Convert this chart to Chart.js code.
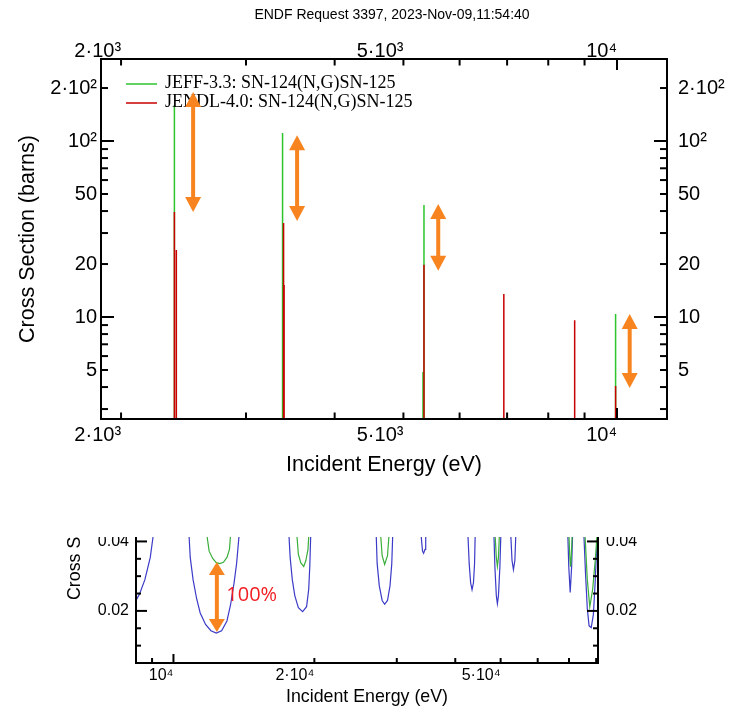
<!DOCTYPE html>
<html>
<head>
<meta charset="utf-8">
<script src="https://cdn.jsdelivr.net/npm/chart.js@4.4.0/dist/chart.umd.min.js"></script>
<style>
  body { margin: 0; background: #fff; width: 737px; height: 713px; overflow: hidden; position: relative; }
  #top { position: absolute; left: 0; top: 0; }
  #lowWrap { position: absolute; left: 0; top: 537px; width: 737px; height: 176px; overflow: hidden; }
  #low { position: absolute; left: 0; top: -197px; }
</style>
</head>
<body>
<canvas id="top" width="737" height="490"></canvas>
<div id="lowWrap"><canvas id="low" width="737" height="373"></canvas></div>
<script>
// ---- top plot: resonance peaks (eV, barns)
const plotTitle = "ENDF Request 3397, 2023-Nov-09,11:54:40";
const jeffLabel = "JEFF-3.3: SN-124(N,G)SN-125";
const jendlLabel = "JENDL-4.0: SN-124(N,G)SN-125";
const jeffEnergy = [2378, 3378, 5328, 5345, 9954];
const jeffPeak = [160, 111, 4.87, 43.3, 10.4];
const jendlEnergy = [2378, 2393, 3389, 3395, 5345, 6926, 8716, 9954];
const jendlPeak = [39.5, 24.0, 34.2, 15.2, 19.8, 13.5, 9.6, 4.06];
const topXTicks = [2000, 5000, 10000];
const topXLabels = ["2·10³", "5·10³", "10⁴"];
const topYTicks = [5, 10, 20, 50, 100, 200];
const topYLabels = ["5", "10", "20", "50", "10²", "2·10²"];
// annotation arrows: energy, upper and lower cross section
const arrowEnergy = [2527, 3541, 5598, 10420];
const arrowHigh = [190, 108, 43.8, 10.4];
const arrowLow = [39.5, 35.1, 18.3, 3.95];

// ---- lower plot (cropped): two evaluations around dips
const blueEnergy = [8317, 8464, 8689, 8922, 9080,
  10784, 10860, 11013, 11208, 11406, 11710, 12024, 12344, 12673, 13010, 13241, 13475, 13642, 13835,
  17630, 17754, 17942, 18164, 18486, 18880, 19248, 19451, 19554, 19657,
  27096, 27239, 27528, 27917, 28262, 28661, 29015, 29271, 29425,
  33750, 34047, 34227, 34468, 34589,
  42538, 42838, 43139, 43443, 43749, 43980, 44135,
  48355, 48611, 48953, 49211, 49471, 49820, 50083,
  52513, 52883, 53255, 53630, 53913,
  69550, 69917, 70409, 70905, 71280,
  75252, 75916, 76585, 77261, 78079, 78905, 79601, 80021, 80726];
const blueXs = [0.0230, 0.0249, 0.0290, 0.0354, 0.043,
  0.043, 0.0354, 0.0290, 0.0235, 0.0194, 0.0161, 0.0143, 0.0136, 0.0143, 0.0171, 0.0217, 0.0281, 0.0336, 0.043,
  0.043, 0.0354, 0.0290, 0.0244, 0.0209, 0.0198, 0.0212, 0.0262, 0.0327, 0.043,
  0.043, 0.0336, 0.0272, 0.0230, 0.0219, 0.0230, 0.0272, 0.0336, 0.043,
  0.043, 0.0372, 0.0366, 0.0377, 0.043,
  0.043, 0.0336, 0.0281, 0.0261, 0.0281, 0.0336, 0.043,
  0.043, 0.0327, 0.0244, 0.0221, 0.0244, 0.0327, 0.043,
  0.043, 0.0345, 0.0319, 0.0345, 0.043,
  0.043, 0.0327, 0.0253, 0.0327, 0.043,
  0.043, 0.0308, 0.0207, 0.0157, 0.0152, 0.0189, 0.0281, 0.0354, 0.043];
const greenEnergy = [11753, 11919, 12130, 12344, 12563, 12786, 13010, 13171, 13264,
  18325, 18486, 18713, 18980, 19181, 19383, 19485,
  27673, 27917, 28262, 28661, 28914,
  48611, 48953, 49211, 49471, 49733,
  69917, 70286, 70532, 70781, 71154,
  75649, 76585, 77532, 78630, 79742, 80444];
const greenXs = [0.043, 0.0372, 0.0351, 0.0339, 0.0336, 0.0340, 0.0354, 0.0377, 0.043,
  0.043, 0.0363, 0.0338, 0.0328, 0.0345, 0.0377, 0.043,
  0.043, 0.0359, 0.0334, 0.0359, 0.043,
  0.043, 0.0354, 0.0328, 0.0354, 0.043,
  0.043, 0.0354, 0.0327, 0.0354, 0.043,
  0.043, 0.0290, 0.0212, 0.0262, 0.0354, 0.043];
const lowXTicks = [10000, 20000, 50000];
const lowXLabels = ["10⁴", "2·10⁴", "5·10⁴"];
const lowYTicks = [0.02, 0.04, 0.06, 0.08];
const lowYLabels = ["0.02", "0.04", "0.06", "0.08"];
const lowArrow = { energy: 12380, high: 0.0341, low: 0.0139, text: "100%", textEnergy: 12966, textXs: 0.0246 };

Chart.defaults.font.family = '"Liberation Sans", Arial, sans-serif';
Chart.defaults.color = '#000';

const GREEN = '#2ec42e', RED = '#c80000', ORANGE = '#f7841f';

// spike: base -> peak -> base, base far below the axis
function spikes(es, ps) {
  const out = [];
  es.forEach((e, i) => { out.push({x: e, y: 1}, {x: e, y: ps[i]}, {x: e, y: 1}); });
  return out;
}
function logMinor(min, max) {
  const out = [];
  for (let d = Math.floor(Math.log10(min)); d <= Math.ceil(Math.log10(max)); d++) {
    for (let m = 1; m <= 9; m++) {
      const v = m * Math.pow(10, d);
      if (v >= min && v <= max) out.push({v: v, long: m === 1});
    }
  }
  return out;
}
function seg(ctx, x1, y1, x2, y2) {
  ctx.beginPath(); ctx.moveTo(x1, y1); ctx.lineTo(x2, y2); ctx.stroke();
}
function arrow(ctx, x, y1, y2, headW, headL) {
  ctx.fillStyle = ORANGE; ctx.strokeStyle = ORANGE; ctx.lineWidth = 4;
  seg(ctx, x, y1 + headL - 1, x, y2 - headL + 1);
  ctx.beginPath(); ctx.moveTo(x, y1); ctx.lineTo(x - headW / 2, y1 + headL); ctx.lineTo(x + headW / 2, y1 + headL); ctx.closePath(); ctx.fill();
  ctx.beginPath(); ctx.moveTo(x, y2); ctx.lineTo(x - headW / 2, y2 - headL); ctx.lineTo(x + headW / 2, y2 - headL); ctx.closePath(); ctx.fill();
}

function fixedTicks(values) {
  return s => { s.ticks = values.map(v => ({value: v})); };
}

const topDecor = {
  id: 'topDecor',
  afterDraw(chart) {
    const {ctx, chartArea: a, scales} = chart;
    const x = scales.x, y = scales.y;
    ctx.save();
    ctx.fillStyle = '#000';
    ctx.font = '14px "Liberation Sans", Arial, sans-serif';
    ctx.textAlign = 'center'; ctx.textBaseline = 'middle';
    ctx.fillText(plotTitle, (a.left + a.right) / 2 + 8, 15);

    ctx.strokeStyle = '#000'; ctx.lineWidth = 2;
    logMinor(x.min, x.max).forEach(t => {
      const px = x.getPixelForValue(t.v), len = t.long ? 11 : 6.5;
      seg(ctx, px, a.bottom, px, a.bottom - len);
      seg(ctx, px, a.top, px, a.top + len);
    });
    logMinor(y.min, y.max).forEach(t => {
      const py = y.getPixelForValue(t.v), len = t.long ? 13 : 7;
      seg(ctx, a.left, py, a.left + len, py);
      seg(ctx, a.right, py, a.right - len, py);
    });
    ctx.strokeRect(a.left, a.top, a.right - a.left, a.bottom - a.top);

    // legend
    ctx.font = '18px "Liberation Serif", "Times New Roman", serif';
    ctx.textAlign = 'left';
    [[jeffLabel, GREEN], [jendlLabel, RED]].forEach((it, i) => {
      const ly = 84 + i * 19;
      ctx.strokeStyle = it[1]; ctx.lineWidth = 1.5;
      seg(ctx, a.left + 25, ly, a.left + 56, ly);
      ctx.fillStyle = '#000';
      ctx.fillText(it[0], a.left + 64, ly - 1);
    });

    arrowEnergy.forEach((e, i) => {
      arrow(ctx, x.getPixelForValue(e), y.getPixelForValue(arrowHigh[i]), y.getPixelForValue(arrowLow[i]), 16, 15);
    });
    ctx.restore();
  }
};

const tickFont = {size: 20};
new Chart(document.getElementById('top'), {
  type: 'line',
  data: {
    datasets: [
      {label: jendlLabel, data: spikes(jendlEnergy, jendlPeak), borderColor: RED, borderWidth: 1.5, pointRadius: 0, order: 1},
      {label: jeffLabel, data: spikes(jeffEnergy, jeffPeak), borderColor: GREEN, borderWidth: 1.5, pointRadius: 0, order: 2}
    ]
  },
  options: {
    responsive: false, animation: false, events: [],
    layout: {padding: 0},
    plugins: {legend: {display: false}, title: {display: false}, tooltip: {enabled: false}},
    scales: {
      x: {
        type: 'logarithmic', position: 'bottom', min: 1874, max: 11761,
        grid: {display: false, drawTicks: false}, border: {display: false},
        afterBuildTicks: fixedTicks(topXTicks),
        afterFit: s => { s.height = 71; },
        ticks: {autoSkip: false, maxRotation: 0, align: 'end', padding: 4, font: tickFont,
          callback: (v, i) => topXLabels[i]},
        title: {display: true, text: 'Incident Energy (eV)', font: {size: 21.5}, padding: {top: 0, bottom: 12}}
      },
      x2: {
        type: 'logarithmic', position: 'top', min: 1874, max: 11761,
        grid: {display: false, drawTicks: false}, border: {display: false},
        afterBuildTicks: fixedTicks(topXTicks),
        afterFit: s => { s.height = 59; },
        ticks: {autoSkip: false, maxRotation: 0, align: 'end', padding: -4.5, font: tickFont,
          callback: (v, i) => topXLabels[i]}
      },
      y: {
        type: 'logarithmic', position: 'left', min: 2.634, max: 292.4,
        grid: {display: false, drawTicks: false}, border: {display: false},
        afterBuildTicks: fixedTicks(topYTicks),
        afterFit: s => { s.width = 101; },
        ticks: {autoSkip: false, padding: 4, font: tickFont, callback: (v, i) => topYLabels[i]},
        title: {display: true, text: 'Cross Section (barns)', font: {size: 21.5}, padding: {top: 15, bottom: 0}}
      },
      y2: {
        type: 'logarithmic', position: 'right', min: 2.634, max: 292.4,
        grid: {display: false, drawTicks: false}, border: {display: false},
        afterBuildTicks: fixedTicks(topYTicks),
        afterFit: s => { s.width = 70; },
        ticks: {autoSkip: false, padding: 11, font: tickFont, callback: (v, i) => topYLabels[i]}
      }
    }
  },
  plugins: [topDecor]
});

const lowDecor = {
  id: 'lowDecor',
  afterDraw(chart) {
    const {ctx, chartArea: a, scales} = chart;
    const x = scales.x, y = scales.y;
    ctx.save();
    ctx.strokeStyle = '#000'; ctx.lineWidth = 2;
    logMinor(x.min, x.max).forEach(t => {
      const px = x.getPixelForValue(t.v), len = t.long ? 9 : 5;
      seg(ctx, px, a.bottom, px, a.bottom - len);
    });
    for (let k = 1; k <= 18; k++) {
      const py = y.getPixelForValue(k * 0.005), len = k % 4 === 0 ? 11 : 5;
      seg(ctx, a.left, py, a.left + len, py);
      seg(ctx, a.right, py, a.right - len, py);
    }
    ctx.strokeRect(a.left, a.top, a.right - a.left, a.bottom - a.top);

    arrow(ctx, x.getPixelForValue(lowArrow.energy), y.getPixelForValue(lowArrow.high), y.getPixelForValue(lowArrow.low), 16, 13);
    ctx.fillStyle = '#f01e23';
    ctx.font = '20px "Open Sans", sans-serif';
    ctx.textAlign = 'left'; ctx.textBaseline = 'middle';
    ctx.fillText(lowArrow.text, x.getPixelForValue(lowArrow.textEnergy), y.getPixelForValue(lowArrow.textXs));
    ctx.restore();
  }
};

const pts = (es, vs) => es.map((e, i) => ({x: e, y: vs[i]}));
const lowTick = {size: 16};
new Chart(document.getElementById('low'), {
  type: 'line',
  data: {
    datasets: [
      {data: pts(greenEnergy, greenXs), borderColor: '#3aae3a', borderWidth: 1.2, pointRadius: 0, order: 1},
      {data: pts(blueEnergy, blueXs), borderColor: '#3b3bc8', borderWidth: 1.2, pointRadius: 0, order: 2}
    ]
  },
  options: {
    responsive: false, animation: false, events: [],
    layout: {padding: {top: 25}},
    plugins: {legend: {display: false}, title: {display: false}, tooltip: {enabled: false}},
    scales: {
      x: {
        type: 'logarithmic', position: 'bottom', min: 8317, max: 80726,
        grid: {display: false, drawTicks: false}, border: {display: false},
        afterBuildTicks: fixedTicks(lowXTicks),
        afterFit: s => { s.height = 50; },
        ticks: {autoSkip: false, maxRotation: 0, align: 'end', padding: 3.4, font: lowTick,
          callback: (v, i) => lowXLabels[i]},
        title: {display: true, text: 'Incident Energy (eV)', font: {size: 17.8}, padding: {top: 0, bottom: 5.3}}
      },
      y: {
        type: 'linear', position: 'left', min: 0.005, max: 0.0908,
        grid: {display: false, drawTicks: false}, border: {display: false},
        afterBuildTicks: fixedTicks(lowYTicks),
        afterFit: s => { s.width = 136; },
        ticks: {autoSkip: false, padding: 7, font: lowTick, callback: (v, i) => lowYLabels[i]},
        title: {display: true, text: 'Cross Section (barns)', font: {size: 17.8}, padding: {top: 64.3, bottom: 0}}
      },
      y2: {
        type: 'linear', position: 'right', min: 0.005, max: 0.0908,
        grid: {display: false, drawTicks: false}, border: {display: false},
        afterBuildTicks: fixedTicks(lowYTicks),
        afterFit: s => { s.width = 139; },
        ticks: {autoSkip: false, padding: 8, font: lowTick, callback: (v, i) => lowYLabels[i]}
      }
    }
  },
  plugins: [lowDecor]
});
</script>
</body>
</html>
